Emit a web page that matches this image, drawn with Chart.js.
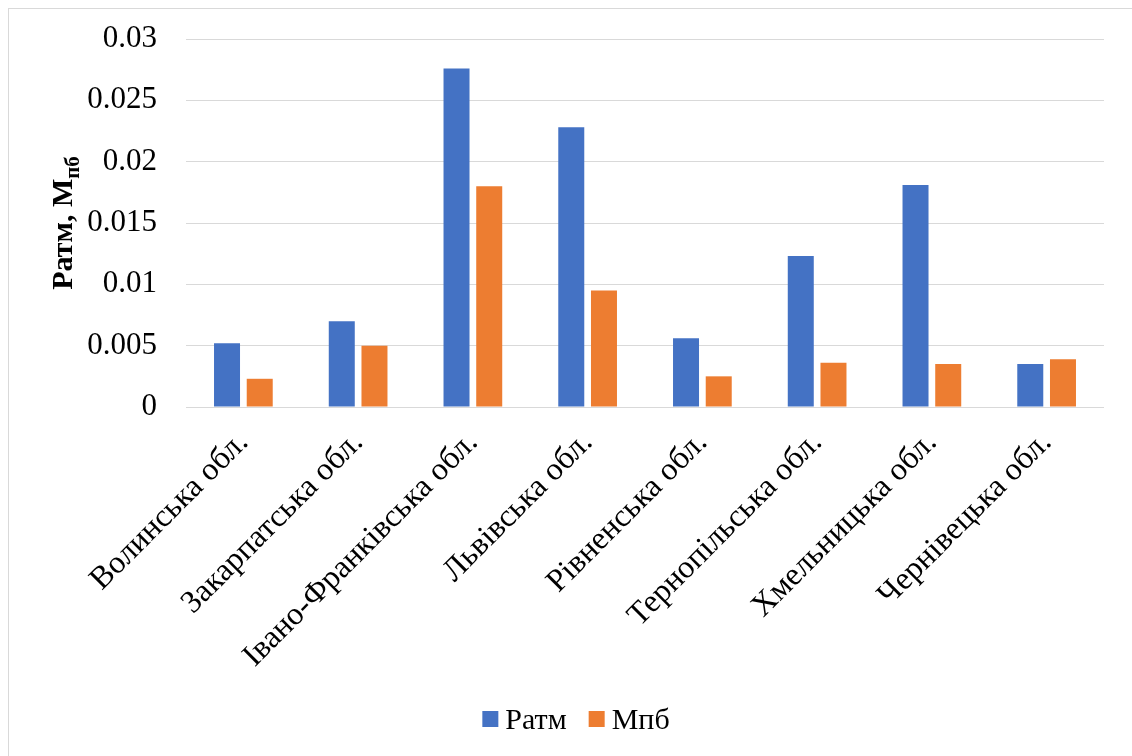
<!DOCTYPE html>
<html>
<head>
<meta charset="utf-8">
<script src="https://cdn.jsdelivr.net/npm/chart.js@4.4.1/dist/chart.umd.min.js"></script>
<style>
  html, body { margin: 0; padding: 0; background: #fff; }
  #wrap { position: relative; width: 1132px; height: 756px; overflow: hidden; }
  #frame { position: absolute; left: 8px; top: 8px; width: 1200px; height: 800px; border: 1px solid #d9d9d9; box-sizing: border-box; }
  canvas { position: absolute; left: 0; top: 0; }
</style>
</head>
<body>
<div id="wrap">
  <div id="frame"></div>
  <canvas id="chart" width="1132" height="756"></canvas>
</div>
<script>
const categories = [
  'Волинська обл.',
  'Закарпатська обл.',
  'Івано-Франківська обл.',
  'Львівська обл.',
  'Рівненська обл.',
  'Тернопільська обл.',
  'Хмельницька обл.',
  'Чернівецька обл.'
];
const ratmValues = [0.0052, 0.0070, 0.0276, 0.0228, 0.0056, 0.0123, 0.0181, 0.0035];
const mpbValues  = [0.0023, 0.0050, 0.0180, 0.0095, 0.0025, 0.0036, 0.0035, 0.0039];
const yTickLabels = ['0', '0.005', '0.01', '0.015', '0.02', '0.025', '0.03'];

const FONT = "'Liberation Serif', 'Times New Roman', serif";

// Rotated axis title with a subscript part
const yTitlePlugin = {
  id: 'yTitle',
  afterDraw(chart) {
    const ctx = chart.ctx;
    const area = chart.chartArea;
    const main = 'Ратм, М';
    const sub = 'пб';
    ctx.save();
    ctx.fillStyle = '#000';
    ctx.font = 'bold 30px ' + FONT;
    const wMain = ctx.measureText(main).width;
    ctx.font = 'bold 21px ' + FONT;
    const wSub = ctx.measureText(sub).width;
    const total = wMain + wSub;
    ctx.translate(72, (area.top + area.bottom) / 2);
    ctx.rotate(-Math.PI / 2);
    ctx.textBaseline = 'alphabetic';
    ctx.textAlign = 'left';
    ctx.font = 'bold 30px ' + FONT;
    ctx.fillText(main, -total / 2, 0);
    ctx.font = 'bold 21px ' + FONT;
    ctx.fillText(sub, -total / 2 + wMain, 7);
    ctx.restore();
  }
};

// Legend row: square swatch followed by the series name
const legendPlugin = {
  id: 'rowLegend',
  afterDraw(chart) {
    const ctx = chart.ctx;
    const box = 16, gapText = 7, gapItem = 22;
    const cy = 719;
    ctx.save();
    ctx.font = '30px ' + FONT;
    const items = chart.data.datasets.map(ds => ({
      label: ds.label, color: ds.backgroundColor, w: ctx.measureText(ds.label).width
    }));
    const total = items.reduce((s, it) => s + box + gapText + it.w, 0) + gapItem * (items.length - 1);
    let x = 576 - total / 2;
    ctx.textBaseline = 'middle';
    ctx.textAlign = 'left';
    items.forEach(it => {
      ctx.fillStyle = it.color;
      ctx.fillRect(x, cy - box / 2, box, box);
      x += box + gapText;
      ctx.fillStyle = '#000';
      ctx.font = '30px ' + FONT;
      ctx.fillText(it.label, x, cy + 2);
      x += it.w + gapItem;
    });
    ctx.restore();
  }
};

new Chart(document.getElementById('chart'), {
  type: 'bar',
  data: {
    labels: categories,
    datasets: [
      { label: 'Ратм', data: ratmValues, backgroundColor: '#4472C4', categoryPercentage: 0.57, barPercentage: 0.795 },
      { label: 'Мпб', data: mpbValues, backgroundColor: '#ED7D31', categoryPercentage: 0.57, barPercentage: 0.795 }
    ]
  },
  options: {
    responsive: false,
    devicePixelRatio: 1,
    animation: false,
    layout: { padding: { left: 0, right: 28, top: 39, bottom: 69 } },
    plugins: {
      legend: { display: false },
      tooltip: { enabled: false }
    },
    scales: {
      x: {
        grid: { display: false },
        border: { display: false },
        ticks: {
          color: '#000',
          font: { family: FONT, size: 32 },
          maxRotation: 45,
          minRotation: 45,
          padding: 9,
          autoSkip: false
        },
        afterFit(scale) {
          scale.height = 280;
          scale.paddingTop = 0;
          scale.paddingBottom = 0;
        }
      },
      y: {
        min: 0,
        max: 0.03,
        grid: { color: '#d9d9d9', lineWidth: 1, drawTicks: false },
        border: { display: false },
        ticks: {
          stepSize: 0.005,
          color: '#000',
          padding: 29,
          font: { family: FONT, size: 31 },
          callback: (v, i) => yTickLabels[i]
        },
        afterFit(scale) {
          scale.width = 186;
          scale.paddingTop = 0;
          scale.paddingBottom = 0;
        }
      }
    }
  },
  plugins: [yTitlePlugin, legendPlugin]
});
</script>
</body>
</html>
